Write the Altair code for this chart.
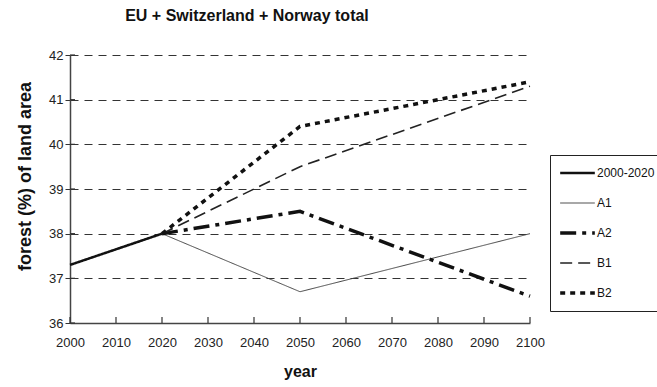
import altair as alt
import pandas as pd

# Forest cover (% of land area), EU + Switzerland + Norway
series = ["2000-2020", "A1", "A2", "B1", "B2"]
hist_years = [2000, 2020]
hist_values = [37.3, 38.0]
scen_years = [2020, 2050, 2100]
a1_values = [38.0, 36.7, 38.0]
a2_values = [38.0, 38.5, 36.6]
b1_values = [38.0, 39.5, 41.3]
b2_values = [38.0, 40.4, 41.4]
x_ticks = [2000, 2010, 2020, 2030, 2040, 2050, 2060, 2070, 2080, 2090, 2100]
y_ticks = [36, 37, 38, 39, 40, 41, 42]

rows = [{"year": y, "forest": v, "series": "2000-2020"} for y, v in zip(hist_years, hist_values)]
for name, vals in zip(["A1", "A2", "B1", "B2"], [a1_values, a2_values, b1_values, b2_values]):
    rows += [{"year": y, "forest": v, "series": name} for y, v in zip(scen_years, vals)]
df = pd.DataFrame(rows)

W, H = 460, 268
FONT = "Liberation Sans"

x_enc = alt.X(
    "year:Q",
    scale=alt.Scale(domain=[2000, 2100], nice=False, zero=False),
    axis=alt.Axis(values=x_ticks, format="d", title="year", ticks=False, grid=False,
                  labelFlush=False, labelOverlap=False, labelPadding=13, titlePadding=14),
)
y_enc = alt.Y(
    "forest:Q",
    scale=alt.Scale(domain=[36, 42], nice=False, zero=False),
    axis=alt.Axis(values=y_ticks, format="d", title="forest (%) of land area",
                  grid=True, gridDash=[8, 6], gridColor="#333", gridWidth=1,
                  labelFlush=False, labelOverlap=False,
                  tickSize=5, labelPadding=2, titlePadding=14, titleY=121,
                  titleFontSize=18),
)

legend = alt.Legend(
    title=None, orient="none", legendX=480, legendY=100,
    strokeColor="#222", fillColor="white", padding=8,
    symbolType="stroke", symbolSize=1200, clipHeight=20, rowPadding=10,
    labelFont=FONT, labelFontSize=12, labelColor="#111", labelOffset=0,
)

lines = alt.Chart(df).mark_line(strokeCap="butt").encode(
    x=x_enc,
    y=y_enc,
    color=alt.Color("series:N", scale=alt.Scale(domain=series, range=["#111", "#444", "#111", "#222", "#111"]), legend=legend),
    strokeDash=alt.StrokeDash("series:N", scale=alt.Scale(domain=series, range=[[1, 0], [1, 0], [16, 6, 4, 6], [12, 6], [5, 5]]), legend=legend),
    strokeWidth=alt.StrokeWidth("series:N", scale=alt.Scale(type="ordinal", domain=series, range=[2.5, 1, 3.5, 1.6, 3.5]), legend=legend),
    detail="series:N",
)

# inward tick marks on the year axis
x_tick_marks = alt.Chart(pd.DataFrame({"year": x_ticks})).mark_rule(color="#333", strokeWidth=1.2).encode(
    x="year:Q", y=alt.value(H - 6), y2=alt.value(H)
)
# inward half of the crossing ticks on the value axis
y_tick_marks = alt.Chart(pd.DataFrame({"forest": y_ticks})).mark_rule(color="#333", strokeWidth=1.2).encode(
    y="forest:Q", x=alt.value(0), x2=alt.value(5)
)

chart = alt.layer(x_tick_marks, y_tick_marks, lines).properties(
    width=W, height=H,
    title=alt.TitleParams("EU + Switzerland + Norway total", anchor="middle", dx=-53, offset=25,
                          font=FONT, fontSize=16, fontWeight="bold", color="#111"),
    autosize=alt.AutoSizeParams(type="none"),
    padding={"left": 70, "top": 55, "right": 127, "bottom": 64},
).configure_view(stroke=None).configure_axis(
    domainColor="#444", domainWidth=1.5, tickColor="#333",
    labelFont=FONT, labelFontSize=13, labelColor="#222",
    titleFont=FONT, titleFontSize=16, titleFontWeight="bold", titleColor="#111",
)

chart.save("out.html", embed_options={"renderer": "svg", "actions": False})
